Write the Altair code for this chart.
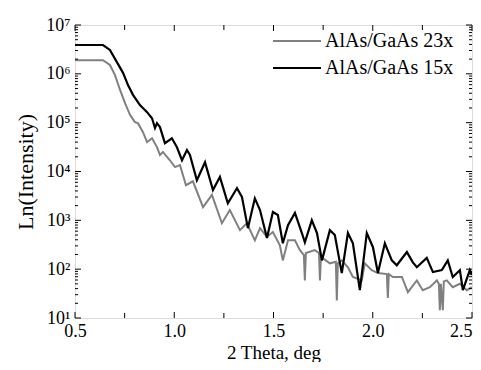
import altair as alt
import pandas as pd

series_names = ["AlAs/GaAs 23x", "AlAs/GaAs 15x"]
series_colors = ["#808080", "#000000"]

theta_15x = [0.500, 0.576, 0.641, 0.676, 0.711, 0.742, 0.767, 0.792, 0.827, 0.862,
             0.888, 0.903, 0.913, 0.928, 0.953, 0.988, 1.013, 1.039, 1.064, 1.079,
             1.114, 1.155, 1.195, 1.230, 1.270, 1.316, 1.341, 1.371, 1.406, 1.432,
             1.467, 1.497, 1.522, 1.547, 1.573, 1.608, 1.643, 1.658, 1.693, 1.719,
             1.744, 1.784, 1.809, 1.844, 1.875, 1.900, 1.935, 1.970, 2.001, 2.026,
             2.061, 2.096, 2.121, 2.172, 2.202, 2.222, 2.272, 2.303, 2.348, 2.378,
             2.403, 2.439, 2.454, 2.489, 2.499]
log10_15x = [6.59, 6.59, 6.59, 6.49, 6.24, 6.02, 5.77, 5.57, 5.36, 5.22,
             5.09, 4.89, 4.99, 4.91, 4.58, 4.68, 4.50, 4.23, 4.44, 4.34,
             3.82, 4.19, 3.62, 3.89, 3.35, 3.66, 3.48, 2.84, 3.45, 3.21,
             2.64, 3.17, 3.11, 2.53, 2.90, 3.15, 2.74, 2.55, 3.00, 2.74,
             2.18, 2.80, 2.70, 1.92, 2.74, 2.53, 1.57, 2.74, 2.45, 1.92,
             2.53, 2.18, 2.08, 2.35, 2.14, 2.04, 2.23, 1.94, 1.98, 2.18,
             1.84, 1.98, 1.57, 1.98, 1.88]

theta_23x = [0.500, 0.576, 0.641, 0.676, 0.701, 0.727, 0.752, 0.777, 0.802, 0.817,
             0.842, 0.863, 0.888, 0.913, 0.928, 0.943, 0.978, 1.004, 1.029, 1.059,
             1.094, 1.145, 1.190, 1.240, 1.280, 1.331, 1.366, 1.406, 1.432, 1.467,
             1.497, 1.532, 1.547, 1.573, 1.608, 1.633, 1.653, 1.658, 1.663, 1.708,
             1.729, 1.734, 1.739, 1.784, 1.814, 1.819, 1.824, 1.844, 1.875, 1.900,
             1.945, 1.960, 1.995, 2.026, 2.071, 2.076, 2.081, 2.101, 2.147, 2.177,
             2.222, 2.252, 2.288, 2.323, 2.333, 2.338, 2.343, 2.353, 2.358, 2.373,
             2.403, 2.439, 2.474, 2.499]
log10_23x = [6.28, 6.28, 6.28, 6.18, 5.98, 5.67, 5.40, 5.16, 5.01, 4.99,
             4.81, 4.60, 4.68, 4.50, 4.34, 4.40, 4.23, 4.09, 4.13, 3.72,
             3.80, 3.27, 3.52, 2.94, 3.21, 2.80, 2.94, 2.59, 2.84, 2.66,
             2.76, 2.49, 2.18, 2.59, 2.59, 2.39, 2.29, 1.77, 2.33, 2.39,
             2.33, 1.77, 2.25, 2.12, 2.15, 1.36, 2.12, 2.18, 2.04, 1.84,
             1.77, 2.12, 1.98, 1.92, 1.90, 1.41, 1.90, 1.84, 1.84, 1.53,
             1.77, 1.57, 1.63, 1.77, 1.70, 1.16, 1.70, 1.16, 1.75, 1.77,
             1.63, 1.70, 1.57, 1.63]

x_major_ticks = [0.5, 1.0, 1.5, 2.0, 2.5]
x_minor_ticks = [0.75, 1.25, 1.75, 2.25]
y_major_ticks = [1e1, 1e2, 1e3, 1e4, 1e5, 1e6, 1e7]
y_minor_ticks = [m * 10 ** k for k in range(1, 7) for m in range(2, 10)]

W, H = 397, 293
FONT = "Liberation Serif"

df15 = pd.DataFrame({"theta": theta_15x, "I": [10 ** v for v in log10_15x], "series": series_names[1]})
df23 = pd.DataFrame({"theta": theta_23x, "I": [10 ** v for v in log10_23x], "series": series_names[0]})

xscale = alt.Scale(domain=[0.5, 2.5], nice=False, zero=False)
yscale = alt.Scale(type="log", domain=[10, 1e7], nice=False)

xaxis = alt.Axis(values=x_major_ticks, format=".1f", ticks=False, domain=False, grid=False,
                 labelFlush=False, labelOverlap=False,
                 labelAlign=alt.ExprRef(expr="datum.value >= 2.5 ? 'right' : 'center'"),
                 labelFont=FONT, labelFontSize=18, labelColor="black", labelPadding=4,
                 title="2 Theta, deg", titleFont=FONT, titleFontSize=19, titleFontWeight="normal",
                 titleColor="black", titlePadding=3)
sup = "{'1':'¹','2':'²','3':'³','4':'⁴','5':'⁵','6':'⁶','7':'⁷'}"
yaxis = alt.Axis(values=y_major_ticks, ticks=False, domain=False, grid=False,
                 labelFlush=False, labelOverlap=False,
                 labelExpr="'10' + " + sup + "[format(log(datum.value)/log(10), '.0f')]",
                 labelFont=FONT, labelFontSize=18, labelColor="black", labelPadding=5,
                 title="Ln(Intensity)", titleFont=FONT, titleFontSize=22, titleFontWeight="normal",
                 titleColor="black", titlePadding=8)

color = alt.Color("series:N", scale=alt.Scale(domain=series_names, range=series_colors),
                  legend=alt.Legend(title=None, orient="none", legendX=212, legendY=6,
                                    symbolType="M-3,0H3", symbolSize=256, symbolStrokeWidth=2,
                                    labelFont=FONT, labelFontSize=20, labelColor="black",
                                    labelOffset=18, rowPadding=7))

line23 = alt.Chart(df23).mark_line(strokeWidth=2, clip=True).encode(
    x=alt.X("theta:Q", scale=xscale, axis=xaxis),
    y=alt.Y("I:Q", scale=yscale, axis=yaxis),
    color=color,
)
line15 = alt.Chart(df15).mark_line(strokeWidth=2.2, clip=True).encode(
    x=alt.X("theta:Q", scale=xscale),
    y=alt.Y("I:Q", scale=yscale),
    color=color,
)

def xticks(vals, length):
    d = pd.DataFrame({"v": vals})
    bot = alt.Chart(d).mark_rule(color="black", strokeWidth=1).encode(
        x=alt.X("v:Q", scale=xscale), y=alt.value(H), y2=alt.value(H - length))
    top = alt.Chart(d).mark_rule(color="black", strokeWidth=1).encode(
        x=alt.X("v:Q", scale=xscale), y=alt.value(0), y2=alt.value(length))
    return [bot, top]

def yticks(vals, length):
    d = pd.DataFrame({"v": vals})
    left = alt.Chart(d).mark_rule(color="black", strokeWidth=1).encode(
        y=alt.Y("v:Q", scale=yscale), x=alt.value(0), x2=alt.value(length))
    right = alt.Chart(d).mark_rule(color="black", strokeWidth=1).encode(
        y=alt.Y("v:Q", scale=yscale), x=alt.value(W - length), x2=alt.value(W))
    return [left, right]

layers = [line23, line15] + xticks(x_major_ticks, 6) + xticks(x_minor_ticks, 5) \
    + yticks(y_major_ticks, 6) + yticks(y_minor_ticks, 3)

chart = alt.layer(*layers).properties(
    width=W, height=H,
    autosize=alt.AutoSizeParams(type="none"),
    padding={"left": 67, "top": 17, "right": 1, "bottom": 44},
).configure_view(stroke="black", strokeWidth=1.5).configure(background="white")

chart.save("out.html", embed_options={"renderer": "svg", "actions": False})
